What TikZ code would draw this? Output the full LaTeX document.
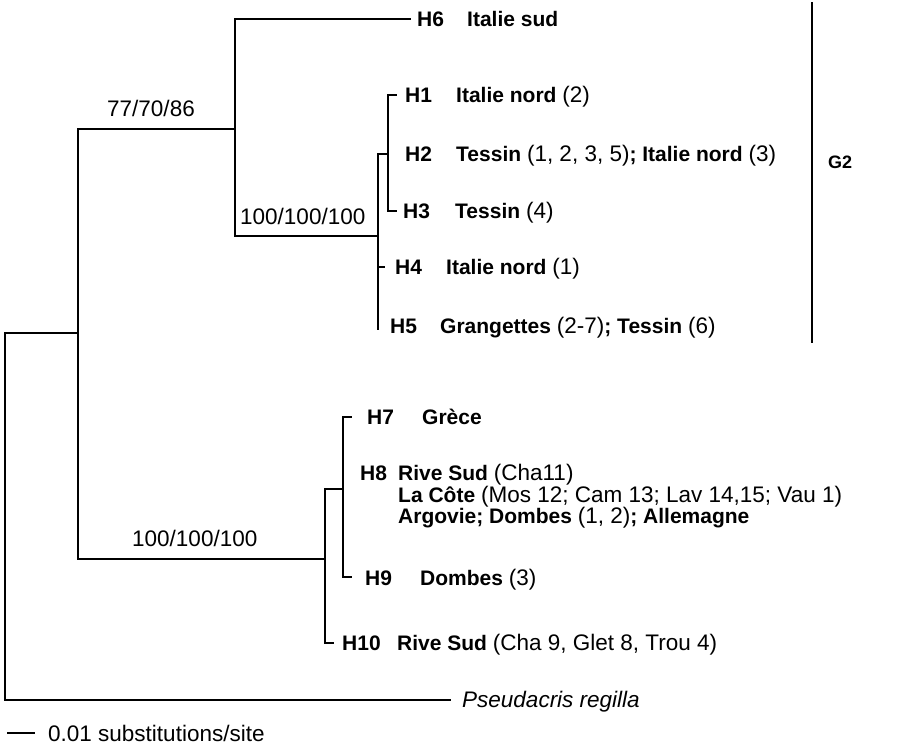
\documentclass[tikz,border=0pt]{standalone}
\usepackage{fontspec}
\setmainfont{Liberation Sans}
\newcommand{\rg}[1]{{\fontsize{22.5}{26}\selectfont\mdseries #1}}
\begin{document}
\begin{tikzpicture}[x=1pt,y=-1pt,
  br/.style={line width=1.2pt,line cap=rect},
  hap/.style={anchor=base west,inner sep=0pt,font=\fontsize{21}{25}\selectfont\bfseries},
  loc/.style={anchor=base west,inner sep=0pt,font=\fontsize{21}{25}\selectfont\bfseries},
  sup/.style={anchor=base west,inner sep=0pt,font=\fontsize{22.5}{26}\selectfont}]
\useasboundingbox (0,0) rectangle (908,750);
% coordinates
\coordinate (r1) at (5,333); \coordinate (r2) at (5,700);
\coordinate (a) at (78,333); \coordinate (a1) at (78,129); \coordinate (a2) at (78,559);
\coordinate (b1) at (235,19); \coordinate (b2) at (235,236);
\coordinate (c) at (378,236); \coordinate (c1) at (378,154); \coordinate (c2) at (378,329); \coordinate (c4) at (378,267);
\coordinate (d) at (388,154); \coordinate (d1) at (388,95); \coordinate (d2) at (388,211);
\coordinate (t6) at (410,19); \coordinate (t1) at (396,95); \coordinate (t3) at (396,211); \coordinate (t4) at (384,267);
\coordinate (e) at (325,559); \coordinate (e1) at (325,489); \coordinate (e2) at (325,643);
\coordinate (f) at (343,489); \coordinate (f1) at (343,417); \coordinate (f2) at (343,577);
\coordinate (t7) at (351,417); \coordinate (t9) at (351,577); \coordinate (t10) at (333,643);
\coordinate (to) at (450,700);
\coordinate (s1) at (7,733); \coordinate (s2) at (35,733);
\coordinate (g1) at (812,2); \coordinate (g2) at (812,343);
% branches
\draw[br] (r1) -- (r2);
\draw[br] (r1) -- (a);
\draw[br] (a1) -- (a2);
\draw[br] (a1) -- (b1 |- a1);
\draw[br] (b1) -- (b2);
\draw[br] (b1) -- (t6);
\draw[br] (b2) -- (c);
\draw[br] (c1) -- (c2);
\draw[br] (c1) -- (d);
\draw[br] (d1) -- (d2);
\draw[br] (d1) -- (t1);
\draw[br] (d2) -- (t3);
\draw[br] (c4) -- (t4);
\draw[br] (a2) -- (e);
\draw[br] (e1) -- (e2);
\draw[br] (e1) -- (f);
\draw[br] (f1) -- (f2);
\draw[br] (f1) -- (t7);
\draw[br] (f2) -- (t9);
\draw[br] (e2) -- (t10);
\draw[br] (r2) -- (to);
\draw[line width=1.2pt] (s1) -- (s2);
\draw[line width=1.5pt] (g1) -- (g2);
% support values
\node[sup] (s77) at (107,116) {77/70/86};
\node[sup] (s100a) at (240,224) {100/100/100};
\node[sup] (s100b) at (132,546) {100/100/100};
% haplotype labels
\node[hap] (h6) at (417,26) {H6};
\node[loc] (l6) at (467,26) {Italie sud};
\node[hap] (h1) at (405,102) {H1};
\node[loc] (l1) at (456,102) {Italie nord \rg{(2)}};
\node[hap] (h2) at (405,161) {H2};
\node[loc] (l2) at (456,161) {Tessin \rg{(1, 2, 3, 5)}; Italie nord \rg{(3)}};
\node[hap] (h3) at (403,218) {H3};
\node[loc] (l3) at (455,218) {Tessin \rg{(4)}};
\node[hap] (h4) at (395,274) {H4};
\node[loc] (l4) at (446,274) {Italie nord \rg{(1)}};
\node[hap] (h5) at (390,333) {H5};
\node[loc] (l5) at (440,333) {Grangettes \rg{(2-7)}; Tessin \rg{(6)}};
\node[hap,font=\fontsize{18}{22}\selectfont\bfseries] (g2) at (828,168) {G2};
\node[hap] (h7) at (367,424) {H7};
\node[loc] (l7) at (422,424) {Grèce};
\node[hap] (h8) at (360,480) {H8};
\node[loc] (l8a) at (398,480) {Rive Sud \rg{(Cha11)}};
\node[loc] (l8b) at (398,502) {La Côte \rg{(Mos 12; Cam 13; Lav 14,15; Vau 1)}};
\node[loc] (l8c) at (398,523) {Argovie; Dombes \rg{(1, 2)}; Allemagne};
\node[hap] (h9) at (365,585) {H9};
\node[loc] (l9) at (420,585) {Dombes \rg{(3)}};
\node[hap] (h10) at (342,650) {H10};
\node[loc] (l10) at (397,650) {Rive Sud \rg{(Cha 9, Glet 8, Trou 4)}};
\node[sup] (out) at (462,707) {\itshape Pseudacris regilla};
\node[sup] (scale) at (48,741) {0.01 substitutions/site};
\end{tikzpicture}
\end{document}
